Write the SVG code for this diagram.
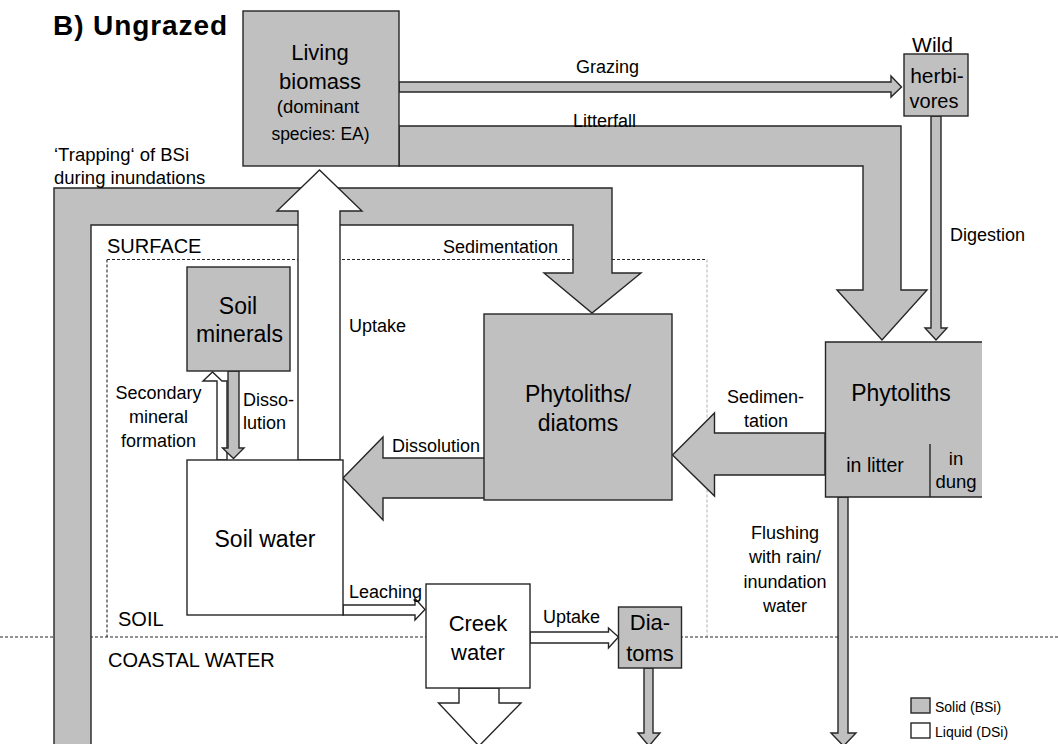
<svg xmlns="http://www.w3.org/2000/svg" width="1058" height="744" viewBox="0 0 1058 744">
<style>
text{font-family:"Liberation Sans",Arial,sans-serif;fill:#000}
.t{font-size:18px}
.n{font-size:23px}
.m{text-anchor:middle}
.g{fill:#c0c0c0;stroke:#262626;stroke-width:1.4}
.w{fill:#fff;stroke:#262626;stroke-width:1.4}
.d{fill:none;stroke:#262626;stroke-width:1.1;stroke-dasharray:3 2}
.dl{fill:none;stroke:#b0b0b0;stroke-width:1;stroke-dasharray:3 2}
</style>
<rect width="1058" height="744" fill="#fff"/>
<text x="53" y="35" font-size="28" font-weight="bold" textLength="174">B) Ungrazed</text>
<g id="zones">
<path class="d" d="M107,259.5H707"/>
<path class="d" d="M107,259.5V637"/>
<path class="dl" d="M707,259.5V637"/>
<path class="d" d="M0,637H1058"/>
<text x="107" y="253" font-size="20">SURFACE</text>
<text x="118" y="626" font-size="20">SOIL</text>
<text x="108" y="667" font-size="20">COASTAL WATER</text>
</g>
<g id="connectors">
<path id="trapping" class="g" d="M54,746V188H612V273H641L592,313L544,273H573V225H91V746Z"/>
<path id="litterfall" class="g" d="M399,126H901V290H927L882,340L837,290H863V166H399Z"/>
<path id="grazing" class="g" d="M399,82H891V76L901.5,87L891,97V92H399Z"/>
<path id="digestion" class="g" d="M931,116V328H925L936,340L947,328H941V116Z"/>
<path id="uptake-plant" class="w" d="M298,460V211H277L319.5,170L362,211H340V460Z"/>
<path id="sec-mineral" class="w" d="M217,460V381H203L212.5,372L222,381H227V460Z"/>
<path id="dissolution-min" class="g" d="M228,371V448H222.5L233.5,458.5L244,448H239V371Z"/>
<path id="dissolution" class="g" d="M485,458H383V437L343,478L383,520V498H485Z"/>
<path id="sedimentation" class="g" d="M825,433H714.5V413L672.5,455L714.5,496V475H825Z"/>
<path id="flushing" class="g" d="M838,497V733H831L843.5,746L856,733H848V497Z"/>
<path id="leaching" class="w" d="M343,605H415V598.5L425,609.5L415,620V615H343Z"/>
<path id="uptake-diatoms" class="w" d="M530,632H608.5V628L618.5,637L608.5,648V643H530Z"/>
<path id="creek-out" class="w" d="M459,688V703H438.5L479,746L521,703H499V688Z"/>
<path id="diatoms-out" class="g" d="M644,668V733H638L649,746L660,733H653V668Z"/>
<text class="t" x="576" y="73">Grazing</text>
<text class="t" x="573" y="127">Litterfall</text>
<text x="54" y="161" font-size="18.5">‘Trapping‘ of BSi</text>
<text x="54" y="183.5" font-size="18.5">during inundations</text>
<text class="t" x="443" y="253">Sedimentation</text>
<text class="t" x="950" y="241">Digestion</text>
<text class="t" x="349" y="332">Uptake</text>
<text class="t m" x="158.5" y="399">Secondary</text>
<text class="t m" x="158.5" y="423">mineral</text>
<text class="t m" x="158.5" y="447">formation</text>
<text class="t" x="243" y="405.5">Disso-</text>
<text class="t" x="243" y="429">lution</text>
<text class="t" x="392" y="452">Dissolution</text>
<text class="t m" x="765.5" y="402.5">Sedimen-</text>
<text class="t m" x="766" y="426.5">tation</text>
<text class="t m" x="785" y="539">Flushing</text>
<text class="t m" x="785" y="563">with rain/</text>
<text class="t m" x="785" y="587.5">inundation</text>
<text class="t m" x="785" y="611.5">water</text>
<text class="t" x="349" y="598" font-size="17.5">Leaching</text>
<text class="t" x="543" y="622.5">Uptake</text>
</g>
<g id="living-biomass">
<rect class="g" x="243" y="11" width="156" height="155"/>
<text class="m" x="320" y="60" font-size="22">Living</text>
<text class="m" x="320" y="89" font-size="22">biomass</text>
<text class="m" x="318" y="113" font-size="18.5">(dominant</text>
<text class="m" x="320.5" y="140" font-size="17.5">species: EA)</text>
</g>
<g id="wild-herbivores">
<rect class="g" x="904" y="54" width="64" height="62"/>
<text class="m" x="932.5" y="52" font-size="21">Wild</text>
<text class="m" x="937" y="83" font-size="21">herbi-</text>
<text class="m" x="934" y="108" font-size="20">vores</text>
</g>
<g id="soil-minerals">
<rect class="g" x="187" y="267" width="103" height="104"/>
<text class="n m" x="238" y="314">Soil</text>
<text class="n m" x="239.5" y="342">minerals</text>
</g>
<g id="soil-water">
<rect class="w" x="187" y="460" width="156" height="155"/>
<text class="n m" x="265" y="547">Soil water</text>
</g>
<g id="phytoliths-diatoms">
<rect class="g" x="484" y="314" width="188" height="186"/>
<text class="n m" x="578" y="401.5">Phytoliths/</text>
<text class="n m" x="578" y="430.5">diatoms</text>
</g>
<g id="phytoliths">
<rect x="825.5" y="342" width="156.5" height="155" fill="#c0c0c0"/>
<path d="M982,342H825.5V497H982M930,444V497" fill="none" stroke="#262626" stroke-width="1.4"/>
<text class="n m" x="901" y="400.5">Phytoliths</text>
<text class="m" x="875" y="472" font-size="19.5">in litter</text>
<text class="m" x="956" y="465" font-size="18.5">in</text>
<text class="m" x="956" y="487.5" font-size="18.5">dung</text>
</g>
<g id="creek-water">
<rect class="w" x="426" y="584" width="104" height="104"/>
<text class="m" x="478" y="631" font-size="22">Creek</text>
<text class="m" x="478" y="660" font-size="22">water</text>
</g>
<g id="diatoms">
<rect class="g" x="618.5" y="607" width="63" height="61"/>
<text class="m" x="650" y="630" font-size="22">Dia-</text>
<text class="m" x="650" y="661" font-size="22">toms</text>
</g>
<g id="legend">
<rect class="g" x="911" y="698" width="19" height="15"/>
<rect class="w" x="911" y="723" width="19" height="15"/>
<text x="935" y="712" font-size="14">Solid (BSi)</text>
<text x="935" y="737" font-size="14">Liquid (DSi)</text>
</g>
</svg>
